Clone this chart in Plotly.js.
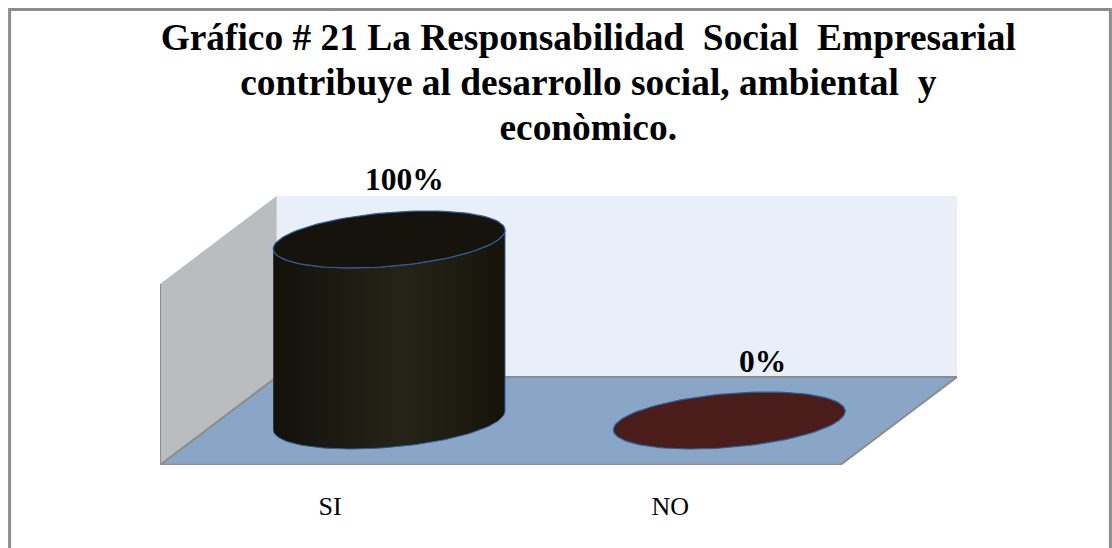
<!DOCTYPE html>
<html>
<head>
<meta charset="utf-8">
<script src="https://cdn.plot.ly/plotly-3.0.1.min.js"></script>
<style>html,body{margin:0;padding:0;background:#fff;overflow:hidden}#chart{width:1112px;height:548px}</style>
</head>
<body>
<div id="chart"></div>
<script>
const titleLines = ["Gráfico # 21 La Responsabilidad \u00A0Social \u00A0Empresarial", "contribuye al desarrollo social, ambiental \u00A0y", "econòmico."];
const categories = ["SI", "NO"];
const values = [100, 0];
const labels = ["100%", "0%"];
const topColors = ["#15130c", "#4a1c1a"];

// Oblique pseudo-3D projection: depth 0..1 shifts a point right and up, in axis units.
const AXIS_MAX = 100, DEPTH_X = 0.343, DEPTH_V = 48.6;
const DISC_U = 0.322, DISC_D = 0.324, DISC_DEPTH = 0.506;
const X_MAX = categories.length + DEPTH_X, Y_MAX = AXIS_MAX + DEPTH_V;
const proj = (c, v, d) => [c + d * DEPTH_X, v + d * DEPTH_V];

const M = {l: 160, r: 154.5, t: 196, b: 83};
const plotW = 1112 - M.l - M.r, plotH = 548 - M.t - M.b;

function poly(points, fill, extra) {
  const p = points.map(q => proj(q[0], q[1], q[2]));
  return Object.assign({
    type: "scatter", mode: "lines",
    x: p.map(q => q[0]), y: p.map(q => q[1]),
    fill: fill ? "toself" : "none", fillcolor: fill || undefined,
    line: {width: 0, color: "rgba(0,0,0,0)"},
    hoverinfo: "skip", showlegend: false, cliponaxis: false
  }, extra || {});
}
const edge = (points, w) => poly(points, null, {line: {width: w, color: "#8c8c8c"}});

const C = categories.length;
const traces = [
  poly([[0,0,1],[C,0,1],[C,AXIS_MAX,1],[0,AXIS_MAX,1]], "#e8eff9"),
  poly([[0,0,0],[0,0,1],[0,AXIS_MAX,1],[0,AXIS_MAX,0]], "#b9bdc0"),
  poly([[0,0,0],[C,0,0],[C,0,1],[0,0,1]], "#8aa6c6"),
  edge([[0,AXIS_MAX,0],[0,0,0],[0,0,1]], 2),
  edge([[0,0,1],[C,0,1],[C,0,0]], 2),
  edge([[0,0,0],[C,0,0]], 2.6)
];

const vx = DISC_D * DEPTH_X, alpha = Math.atan2(vx, DISC_U);
function ring(cat, v, from, to, n) {
  const out = [];
  for (let i = 0; i <= n; i++) {
    const t = from + (to - from) * i / n;
    const p = proj(cat, v, DISC_DEPTH);
    out.push([p[0] + Math.cos(t) * DISC_U + Math.sin(t) * vx, p[1] + Math.sin(t) * DISC_D * DEPTH_V]);
  }
  return out;
}
const BLUE = "#2f5f98";
categories.forEach((name, i) => {
  const cat = i + 0.5, v = values[i];
  if (v > 0) {
    const bottom = ring(cat, 0, -Math.PI + alpha, alpha, 60);
    const top = ring(cat, v, alpha, -Math.PI + alpha, 60);
    const body = bottom.concat(top);
    traces.push({
      type: "scatter", mode: "lines", x: body.map(q => q[0]), y: body.map(q => q[1]),
      fill: "toself", fillcolor: "#1d1b12",
      fillgradient: {type: "horizontal", colorscale: [[0, "#12110a"], [0.55, "#262318"], [0.8, "#1e1b11"], [1, "#151309"]]},
      line: {width: 1, color: BLUE}, hoverinfo: "skip", showlegend: false, cliponaxis: false
    });
  }
  const cap = ring(cat, v, 0, 2 * Math.PI, 120);
  traces.push({
    type: "scatter", mode: "lines", x: cap.map(q => q[0]), y: cap.map(q => q[1]),
    fill: "toself", fillcolor: topColors[i], line: {width: 1.2, color: BLUE},
    hoverinfo: "skip", showlegend: false, cliponaxis: false
  });
});

const labelShiftX = [16, 34];
const annotations = categories.map((name, i) => {
  const p = proj(i + 0.5, values[i], 0.5);
  return {
    x: p[0], y: p[1], xref: "x", yref: "y", text: "<b>" + labels[i] + "</b>", showarrow: false,
    xanchor: "center", yanchor: "middle", xshift: labelShiftX[i], yshift: 60,
    font: {family: "Liberation Serif", size: 31.5, color: "#000"}
  };
});

const px = x => (x - M.l) / plotW, py = y => 1 - (y - M.t) / plotH;
const TITLE_PX = 37.4;
const layout = {
  width: 1112, height: 548, margin: M, paper_bgcolor: "#fff", plot_bgcolor: "rgba(0,0,0,0)",
  title: {
    text: titleLines.map(l => '<span style="font-size:' + TITLE_PX + 'px"><b>' + l + '</b></span>').join("<br>"),
    x: px(588.5), xanchor: "center", xref: "paper",
    y: 1 - 50 / 548, yanchor: "middle", yref: "container", automargin: false,
    font: {family: "Liberation Serif", size: 34.6, color: "#000"}
  },
  xaxis: {
    range: [0, X_MAX], showgrid: false, zeroline: false, showline: false, ticks: "",
    tickmode: "array", tickvals: categories.map((c, i) => i + 0.5), ticktext: categories,
    ticklabelstandoff: 23, tickfont: {family: "Liberation Serif", size: 26, color: "#000"}, fixedrange: true
  },
  yaxis: {range: [0, Y_MAX], visible: false, fixedrange: true},
  annotations: annotations,
  shapes: [{
    type: "rect", xref: "paper", yref: "paper", x0: px(9.5), x1: px(1111), y0: py(9.5), y1: py(600),
    line: {color: "#8c8c8c", width: 3}, fillcolor: "rgba(0,0,0,0)", layer: "above"
  }],
  showlegend: false
};
Plotly.newPlot("chart", traces, layout, {displayModeBar: false, staticPlot: true});
</script>
</body>
</html>
